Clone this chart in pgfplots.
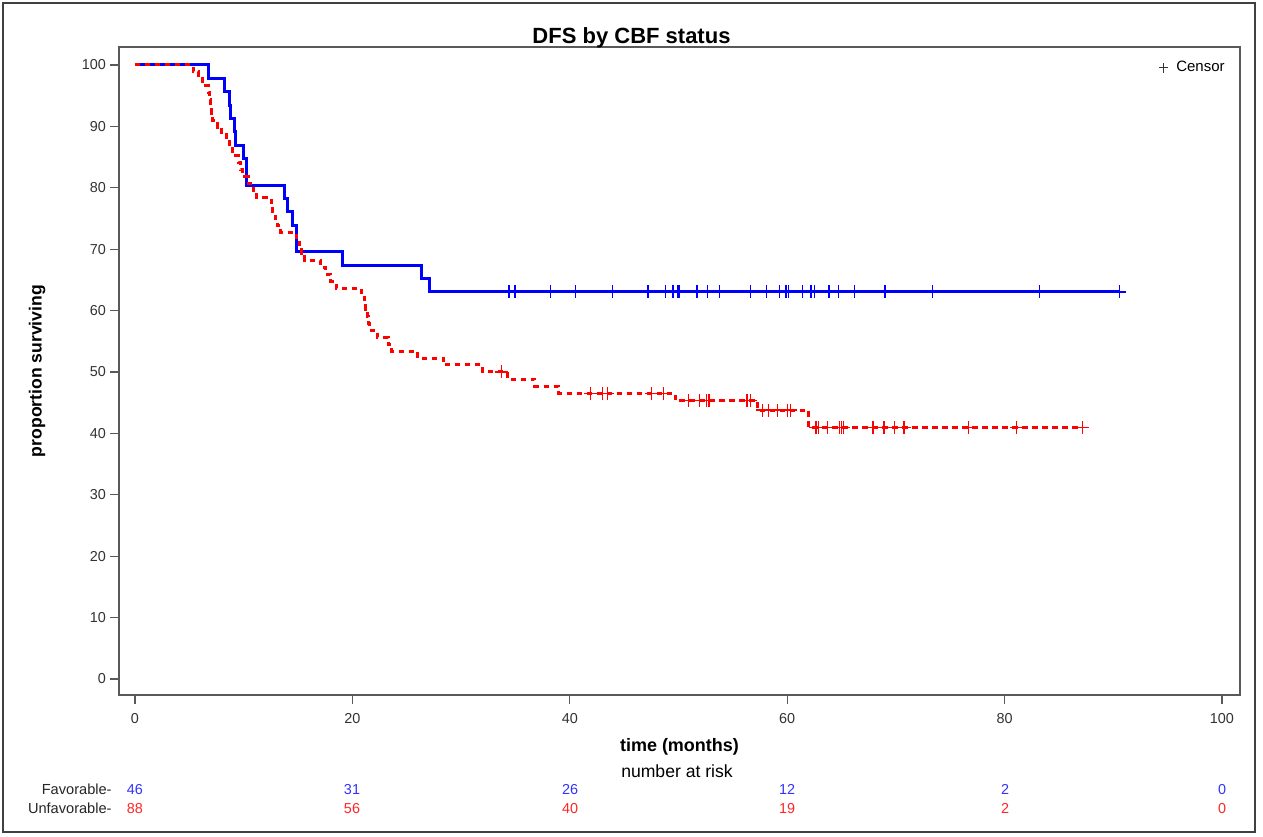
\documentclass[border=0pt]{standalone}
\usepackage{pgfplots}
\usepackage{pgfplotstable}
\pgfplotsset{compat=1.18}
\usepackage{fontspec}
\setmainfont{Liberation Sans}
\definecolor{sasblue}{RGB}{0,0,255}
\definecolor{sasred}{RGB}{255,0,0}

% Favorable (blue) Kaplan-Meier steps
\pgfplotstableread{
t s
0 100
6.75 97.83
8.22 95.65
8.74 93.48
8.83 91.30
9.14 89.13
9.25 86.96
9.97 84.78
10.27 80.43
13.74 78.26
14.05 76.09
14.50 73.91
14.87 69.57
19.08 67.39
26.37 65.22
27.08 63.04
90.6 63.04
}\favtab

\pgfplotstableread{
t s
34.4 63.04
34.96 63.04
38.2 63.04
40.5 63.04
43.9 63.04
47.2 63.04
48.8 63.04
49.5 63.04
49.9 63.04
50.05 63.04
51.7 63.04
52.7 63.04
53.8 63.04
56.6 63.04
58.1 63.04
59.3 63.04
59.9 63.04
60.1 63.04
61.4 63.04
62.2 63.04
62.5 63.04
63.8 63.04
63.9 63.04
64.7 63.04
66.2 63.04
69.0 63.04
73.4 63.04
83.2 63.04
90.6 63.04
}\favcens

% Unfavorable (red) Kaplan-Meier steps
\pgfplotstableread{
t s
0 100
5.37 98.86
5.80 97.73
6.20 96.59
6.75 95.45
6.85 94.32
6.95 93.18
7.05 92.05
7.15 90.91
7.60 89.77
8.00 88.64
8.45 87.50
8.65 86.36
9.00 85.23
9.50 84.09
9.70 82.95
9.90 81.82
10.40 80.68
10.90 79.55
11.20 78.41
12.55 77.27
12.65 76.14
12.90 75.00
13.10 73.86
13.40 72.73
14.85 71.59
15.10 70.45
15.35 69.32
15.60 68.18
17.10 67.05
17.50 65.91
18.00 64.77
18.50 63.64
20.80 62.50
21.10 61.36
21.25 60.23
21.40 59.09
21.50 57.95
21.60 56.82
22.30 55.68
23.30 54.55
23.60 53.41
26.00 52.27
28.40 51.14
32.00 50.00
34.30 48.84
36.80 47.67
39.00 46.51
49.70 45.30
57.30 43.80
62.00 40.90
87.20 40.90
}\unftab

\pgfplotstableread{
t s
33.7 50.00
41.9 46.51
43.0 46.51
43.5 46.51
47.5 46.51
48.6 46.51
50.9 45.30
51.9 45.30
52.6 45.30
52.8 45.30
56.3 45.30
56.6 45.30
57.7 43.80
58.3 43.80
59.1 43.80
60.0 43.80
60.3 43.80
62.65 40.90
62.85 40.90
63.7 40.90
64.8 40.90
65.0 40.90
65.2 40.90
67.9 40.90
68.9 40.90
69.9 40.90
70.7 40.90
70.8 40.90
76.7 40.90
81.1 40.90
87.2 40.90
}\unfcens

\begin{document}
\begin{tikzpicture}
% page background and outer frame (1 px = 0.5 pt)
\path[fill=white] (0,0) rectangle (631.5pt,418pt);
\draw[line width=0.6pt, black!75] (1.5pt,2pt) rectangle (627.5pt,416.5pt);

\begin{axis}[
  at={(59.5pt,70.5pt)}, anchor=south west,
  scale only axis, width=560.5pt, height=324pt,
  xmin=-1.47, xmax=101.66, ymin=-2.61, ymax=102.93,
  xtick={0,20,...,100}, ytick={0,10,...,100},
  minor tick num=0,
  tick align=outside, major tick length=4.5pt,
  axis line style={black!65, line width=0.6pt},
  every tick/.style={black!65, line width=0.6pt},
  xtick pos=bottom, ytick pos=left,
  /pgf/number format/assume math mode=true,
  tick label style={font=\fontsize{7.2}{8}\selectfont, text=black!80},
  xticklabel style={yshift=-1pt},
  yticklabel style={xshift=1.5pt},
  xlabel={time (months)}, ylabel={proportion surviving},
  every axis x label/.style={at={(axis description cs:0.5,-0.0802)}, anchor=center, font=\fontsize{9}{10}\selectfont\bfseries},
  every axis y label/.style={at={(axis description cs:-0.0731,0.5)}, rotate=90, anchor=center, font=\fontsize{8.8}{10}\selectfont\bfseries},
  legend style={draw=none, fill=none, at={(axis description cs:0.992,0.988)}, anchor=north east, font=\fontsize{7.5}{9}\selectfont, inner sep=1pt, /tikz/every even column/.append style={column sep=2pt}},
  legend cell align=left,
]
\addlegendimage{only marks, mark=+, mark size=2.3pt, black!80, mark options={line width=0.5pt}}
\addlegendentry{\hspace{2pt}Censor}

\addplot[const plot, sasblue, line width=1.5pt, forget plot] table[x=t,y=s] {\favtab};
\addplot[const plot, sasred, line width=1.5pt, dash pattern=on 2.75pt off 2.25pt, forget plot] table[x=t,y=s] {\unftab};
\addplot[only marks, mark=+, mark size=3.25pt, sasblue, mark options={line width=0.6pt}, forget plot] table[x=t,y=s] {\favcens};
\addplot[only marks, mark=+, mark size=3.25pt, sasred, mark options={line width=0.6pt}, forget plot] table[x=t,y=s] {\unfcens};
\end{axis}

% title
\node[font=\fontsize{11}{13}\selectfont\bfseries] at (315.75pt,399pt) {DFS by CBF status};

% number at risk table
\node[font=\fontsize{8.8}{10}\selectfont] at (338.5pt,32.5pt) {number at risk};
\node[anchor=base east, inner sep=0pt, font=\fontsize{7.3}{9}\selectfont, text=black!85] at (56pt,20.8pt) {Favorable-};
\node[anchor=base east, inner sep=0pt, font=\fontsize{7.3}{9}\selectfont, text=black!85] at (56pt,11.3pt) {Unfavorable-};
\foreach \xx/\nf/\nu in {67.5/46/88, 176/31/56, 285/26/40, 393.5/12/19, 502.5/2/2, 611/0/0}{
  \node[anchor=base, inner sep=0pt, font=\fontsize{7.2}{9}\selectfont, text=sasblue!80] at (\xx pt,20.8pt) {\nf};
  \node[anchor=base, inner sep=0pt, font=\fontsize{7.2}{9}\selectfont, text=sasred!85] at (\xx pt,11.3pt) {\nu};
}
\end{tikzpicture}
\end{document}
